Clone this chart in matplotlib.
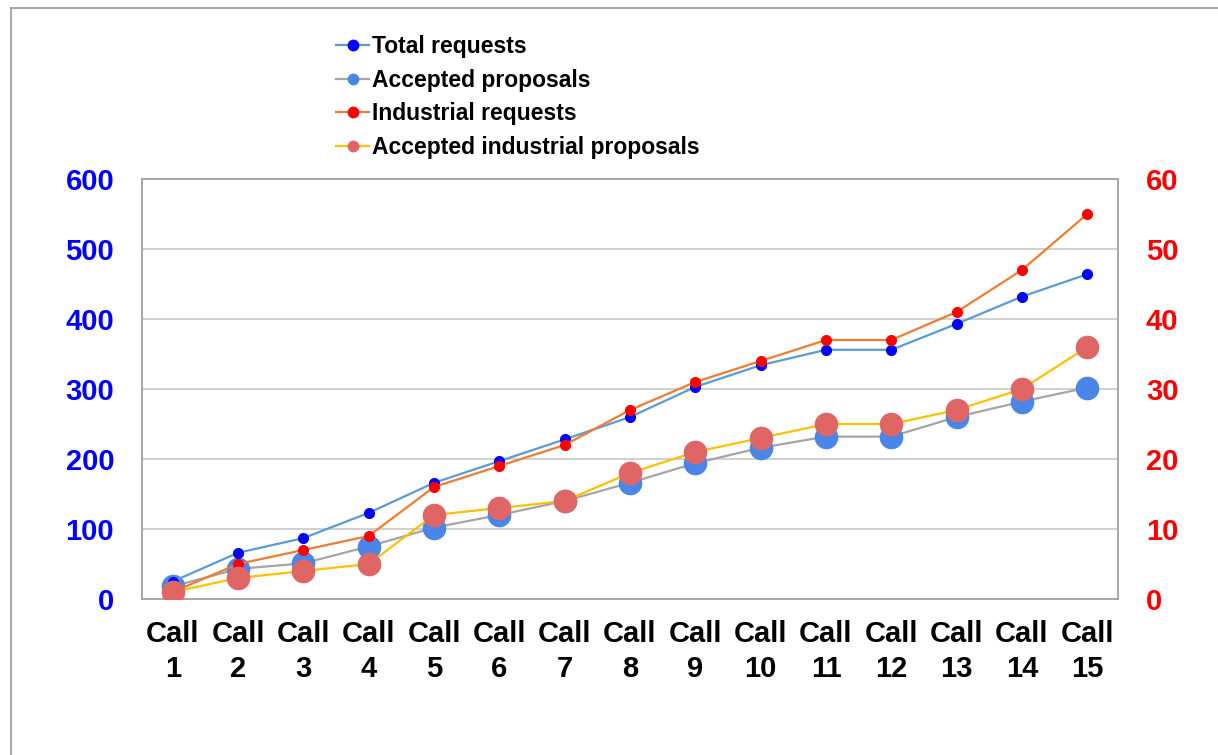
import matplotlib
matplotlib.use("Agg")
import matplotlib.pyplot as plt
from matplotlib.lines import Line2D

categories = [f"Call\n{i}" for i in range(1, 16)]
total_requests = [25, 66, 87, 123, 166, 197, 228, 260, 303, 334, 356, 356, 393, 432, 464]
accepted_proposals = [18, 43, 51, 75, 102, 120, 140, 166, 194, 216, 232, 232, 260, 282, 302]
industrial_requests = [1, 5, 7, 9, 16, 19, 22, 27, 31, 34, 37, 37, 41, 47, 55]
accepted_industrial = [1, 3, 4, 5, 12, 13, 14, 18, 21, 23, 25, 25, 27, 30, 36]
left_ticks = [0, 100, 200, 300, 400, 500, 600]
right_ticks = [0, 10, 20, 30, 40, 50, 60]

plt.rcParams['font.family'] = ['Liberation Sans', 'DejaVu Sans']
W, H = 1218, 755
fig = plt.figure(figsize=(W / 100, H / 100), dpi=100)
fig.patch.set_facecolor('white')

# outer border (left and top only visible)
fig.add_artist(Line2D([11 / W, 11 / W], [0, 1 - 8 / H], transform=fig.transFigure, color='#9a9a9a', lw=1.2))
fig.add_artist(Line2D([11 / W, 1], [1 - 8 / H, 1 - 8 / H], transform=fig.transFigure, color='#9a9a9a', lw=1.2))

L, R, T, B = 142, 1118, 179, 599
ax = fig.add_axes([L / W, 1 - B / H, (R - L) / W, (B - T) / H])
ax2 = ax.twinx()

x = list(range(len(categories)))
h1, = ax.plot(x, total_requests, color='#5B9BD5', lw=1.6, marker='o', ms=7,
              mfc='#0000FF', mec='#0000FF', label='Total requests', zorder=3)
h2, = ax.plot(x, accepted_proposals, color='#A5A5A5', lw=1.6, marker='o', ms=16,
              mfc='#4A86E8', mec='#4A86E8', label='Accepted proposals', zorder=2)
h3, = ax2.plot(x, industrial_requests, color='#ED7D31', lw=1.6, marker='o', ms=7,
               mfc='#FF0000', mec='#FF0000', label='Industrial requests', zorder=3)
h4, = ax2.plot(x, accepted_industrial, color='#FFC000', lw=1.6, marker='o', ms=16,
               mfc='#E06666', mec='#E06666', label='Accepted industrial proposals', zorder=4)

ax.set_xlim(-0.47, len(categories) - 0.53)
ax.set_ylim(0, 600)
ax2.set_ylim(0, 60)
ax.set_yticks(left_ticks)
ax2.set_yticks(right_ticks)
ax.set_xticks(x)
ax.set_xticklabels(categories, fontsize=21, fontweight='bold', linespacing=1.32)
ax.tick_params(axis='x', length=0, pad=15)
ax.tick_params(axis='y', length=0, pad=20, labelsize=21, labelcolor='#0000FF')
ax2.tick_params(axis='y', length=0, pad=20, labelsize=21, labelcolor='#FF0000')
for lab in ax.get_yticklabels():
    lab.set_fontweight('bold')
for lab in ax2.get_yticklabels():
    lab.set_fontweight('bold')

ax.grid(axis='y', color='#C8C8C8', lw=1.2)
ax.set_axisbelow(True)
for a in (ax, ax2):
    for s in a.spines.values():
        s.set_color('#A6A6A6')
        s.set_linewidth(1.2)

leg = fig.legend(handles=[h1, h2, h3, h4], loc='upper left',
                 bbox_to_anchor=(336 / W, 1 - 35 / H), frameon=False,
                 prop={'family': 'Liberation Sans', 'weight': 'bold', 'size': 16.5},
                 handlelength=1.45, handletextpad=0.12, labelspacing=0.46,
                 borderpad=0, borderaxespad=0, markerscale=1.0)
for lh in leg.legend_handles:
    lh.set_markersize(7.5)

fig.savefig('out.png', dpi=100, facecolor='white')
